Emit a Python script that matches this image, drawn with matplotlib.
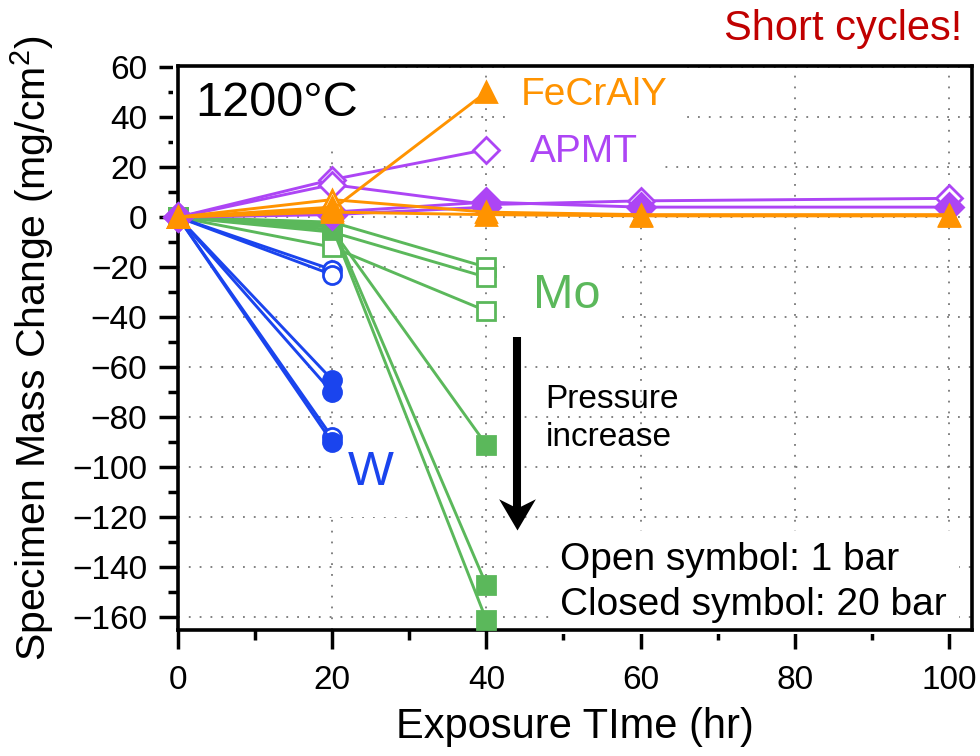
import matplotlib
matplotlib.use("Agg")
import matplotlib.pyplot as plt
from matplotlib.path import Path
from matplotlib.markers import MarkerStyle

plt.rcParams['font.family'] = ['Liberation Sans', 'DejaVu Sans']
plt.rcParams['mathtext.fontset'] = 'custom'
plt.rcParams['mathtext.rm'] = 'Liberation Sans'
plt.rcParams['mathtext.it'] = 'Liberation Sans:italic'

# ---------------- data ----------------
# W (circles) - only 20 h
w_open_t = [[0, 20], [0, 20], [0, 20]]
w_open_v = [[0, -21], [0, -23], [0, -88]]
w_closed_t = [[0, 20], [0, 20], [0, 20]]
w_closed_v = [[0, -65], [0, -70], [0, -90]]

# Mo (squares)
mo_open_t = [[0, 20, 40], [0, 20, 40], [0, 20, 40]]
mo_open_v = [[0, -2, -20], [0, -6, -24], [0, -12, -37.5]]
mo_closed_t = [[0, 20, 40], [0, 20, 40], [0, 20, 40]]
mo_closed_v = [[0, -5, -91], [0, -3, -147], [0, -4, -161]]

# APMT (diamonds)
apmt_open_t = [[0, 20, 40], [0, 20, 40, 60, 100]]
apmt_open_v = [[0, 15, 27], [0, 13, 5, 6.5, 7.5]]
apmt_closed_t = [[0, 20, 40, 60, 100], [0, 20, 40]]
apmt_closed_v = [[0, 2, 6, 4, 4], [0, 1, 4]]

# FeCrAlY (triangles)
fe_open_t = [[0, 20, 40, 60, 100], [0, 20]]
fe_open_v = [[0, 7, 2, 1, 1], [0, 4]]
fe_closed_t = [[0, 20, 40], [0, 20, 40, 60, 100]]
fe_closed_v = [[0, 3, 50], [0, 2, 1, 0.5, 0.5]]

x_ticks = [0, 20, 40, 60, 80, 100]
y_ticks = [60, 40, 20, 0, -20, -40, -60, -80, -100, -120, -140, -160]

BLUE = '#1A44EE'
GREEN = '#5BB85B'
ORANGE = '#FF9300'
PURPLE = '#AD45F5'
RED = '#C00000'

fig = plt.figure(figsize=(9.8, 7.56), dpi=100)
ax = fig.add_axes([178/980, 1-630/756, (972-178)/980, (630-66)/756])

LW = 2.1
MEW = 2.0

def draw(ts, vs, color, marker, ms, filled, z):
    for t, v in zip(ts, vs):
        ax.plot(t, v, color=color, lw=LW, marker=marker, ms=ms,
                mfc=color if filled else 'white', mec=color, mew=MEW,
                zorder=z, clip_on=False)

draw(mo_open_t, mo_open_v, GREEN, 's', 13, False, 3)
draw(mo_closed_t, mo_closed_v, GREEN, 's', 13, True, 3)
draw(w_open_t, w_open_v, BLUE, 'o', 13, False, 4)
draw(w_closed_t, w_closed_v, BLUE, 'o', 13, True, 4)
draw(apmt_open_t, apmt_open_v, PURPLE, 'D', 13, False, 5)
draw(apmt_closed_t, apmt_closed_v, PURPLE, 'D', 14, True, 5)
draw(fe_open_t, fe_open_v, ORANGE, '^', 14, False, 6)
draw(fe_closed_t, fe_closed_v, ORANGE, '^', 14, True, 6)

ax.set_xlim(0, 103)
ax.set_ylim(-165, 60.4)
ax.set_xticks(x_ticks)
ax.set_yticks(y_ticks)
ax.set_xticks([10, 30, 50, 70, 90], minor=True)
ax.set_yticks([50, 30, 10, -10, -30, -50, -70, -90, -110, -130, -150], minor=True)
ax.tick_params(which='major', direction='out', length=14, width=2.5,
               labelsize=24, pad=8)
ax.tick_params(which='minor', direction='out', length=7.5, width=2.5)
ax.tick_params(axis='x', which='major', pad=11)
for s in ax.spines.values():
    s.set_linewidth(2.6)
ax.grid(True, which='major', color='#777777', lw=1.3, ls=(0, (1, 5)))
ax.set_axisbelow(True)

ax.set_xlabel('Exposure TIme (hr)', fontsize=30, labelpad=8)
ax.set_ylabel('Specimen Mass Change (mg/cm$^2$)', fontsize=29.5, labelpad=12)

def label(x, y, s, color, size, pad, **kw):
    ax.text(x, y, s, color=color, fontsize=size, va='center', ha='left',
            zorder=2, bbox=dict(facecolor='white', edgecolor='none',
                                boxstyle='square,pad=%g' % pad), **kw)

label(2.2, 45.5, '1200°C', 'black', 35, 0.45)
label(44.4, 48.7, 'FeCrAlY', ORANGE, 28, 0.35)
label(45.7, 26, 'APMT', PURPLE, 28, 0.5)
label(46, -31.5, 'Mo', GREEN, 35, 0.45)
label(22, -102, 'W', BLUE, 35, 0.45)
ax.text(47.7, -80.5, 'Pressure\nincrease', fontsize=24, va='center',
        ha='left', linespacing=1.28, zorder=2)
label(49.6, -146, 'Open symbol: 1 bar\nClosed symbol: 20 bar', 'black', 28,
      0.3, linespacing=1.3)

# pressure arrow
arrow_x = 44
arrow_top = -48
arrow_tip = -125
ax.plot([arrow_x, arrow_x], [arrow_top, arrow_tip + 6], color='black',
        lw=5.8, solid_capstyle='butt', zorder=7)
head = Path([(0, 0), (-0.5, 0.85), (0, 0.6), (0.5, 0.85), (0, 0)],
            [Path.MOVETO, Path.LINETO, Path.LINETO, Path.LINETO, Path.CLOSEPOLY])
ax.plot([arrow_x], [arrow_tip], marker=MarkerStyle(head), ms=45,
        color='black', mew=0, zorder=8)

fig.text(0.9816, 0.962, 'Short cycles!', color=RED, fontsize=30,
         ha='right', va='center')

fig.savefig('out.png', dpi=100)
